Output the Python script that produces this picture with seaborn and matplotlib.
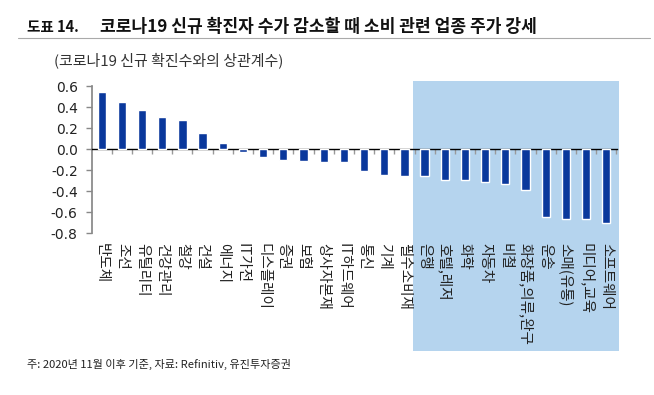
import matplotlib
matplotlib.use("Agg")
import matplotlib.pyplot as plt
import matplotlib.transforms as mtransforms
from matplotlib.patches import Rectangle
import seaborn as sns

# Sector names and correlation with new COVID-19 cases
sectors = ["반도체", "조선", "유틸리티", "건강관리", "철강", "건설", "에너지", "IT가전",
           "디스플레이", "증권", "보험", "상사자본재", "IT하드웨어", "통신", "기계", "필수소비재",
           "은행", "호텔,레저", "화학", "자동차", "비철", "화장품,의류,완구", "운송",
           "소매(유통)", "미디어,교육", "소프트웨어"]
corr = [0.54, 0.45, 0.37, 0.31, 0.28, 0.15, 0.06, -0.03,
        -0.08, -0.10, -0.11, -0.12, -0.12, -0.21, -0.25, -0.26,
        -0.26, -0.29, -0.29, -0.31, -0.33, -0.39, -0.65,
        -0.67, -0.67, -0.70]
highlight_from = "은행"
yticks = [0.6, 0.4, 0.2, 0.0, -0.2, -0.4, -0.6, -0.8]

sns.set_theme(style="white")
plt.rcParams["font.family"] = ["Noto Sans CJK KR", "DejaVu Sans"]
plt.rcParams["axes.unicode_minus"] = False

fig = plt.figure(figsize=(6.54, 3.95), dpi=100)
ax = fig.add_axes([0.140, 0.410, 0.804, 0.372])
ax.set_facecolor("none")
ax.set_zorder(2)

sns.barplot(x=sectors, y=corr, color="#0A389C", saturation=1, width=0.41, ax=ax, zorder=3)

n = len(sectors)
ax.set_xlim(-0.5, n - 0.45)
ax.set_ylim(-0.8, 0.6)
ax.set_yticks(yticks)
ax.set_yticklabels([f"{v:.1f}" for v in yticks], family="DejaVu Sans", fontsize=10, color="#222222")
ax.tick_params(axis="y", direction="out", length=4, width=1, color="#888888", pad=6, left=True)

# zero line with small ticks between categories
ax.spines["bottom"].set_position(("data", 0))
ax.spines["bottom"].set_color("black")
ax.spines["bottom"].set_linewidth(1)
ax.spines["left"].set_color("#888888")
ax.spines["top"].set_visible(False)
ax.spines["right"].set_visible(False)
ax.set_xticks([i + 0.5 for i in range(n)])
ax.set_xticklabels([])
ax.tick_params(axis="x", direction="out", length=3.5, width=1, color="#999999", bottom=True)
ax.set_xlabel("")

# category labels written vertically below the plot
lab_tr = mtransforms.blended_transform_factory(ax.transData, ax.transAxes)
for i, s in enumerate(sectors):
    ax.text(i, -0.065, s, transform=lab_tr, rotation=-90, ha="center", va="top",
            fontsize=10.5, color="#222222")

# shaded area for consumer-related sectors
start = sectors.index(highlight_from) - 0.57
shade_tr = mtransforms.blended_transform_factory(ax.transData, fig.transFigure)
fig.patches.append(Rectangle((start, 0.111), (n - 0.36) - start, 0.684, transform=shade_tr,
                             facecolor="#B5D4EE", edgecolor="none", zorder=0))

# titles and footer
fig.text(0.041, 0.932, "도표 14.", fontsize=10.5, fontweight="bold", color="#111111", va="center")
fig.text(0.153, 0.932, "코로나19 신규 확진자 수가 감소할 때 소비 관련 업종 주가 강세",
         fontsize=12.3, fontweight="bold", color="#111111", va="center")
fig.add_artist(plt.Line2D([0.028, 0.994], [0.904, 0.904], color="#AAAAAA", linewidth=0.8))
fig.text(0.083, 0.848, "(코로나19 신규 확진수와의 상관계수)", fontsize=10.8, color="#333333", va="center")
fig.text(0.042, 0.076, "주: 2020년 11월 이후 기준, 자료: Refinitiv, 유진투자증권",
         fontsize=8, color="#222222", va="center")

fig.savefig("out.png", dpi=100)
